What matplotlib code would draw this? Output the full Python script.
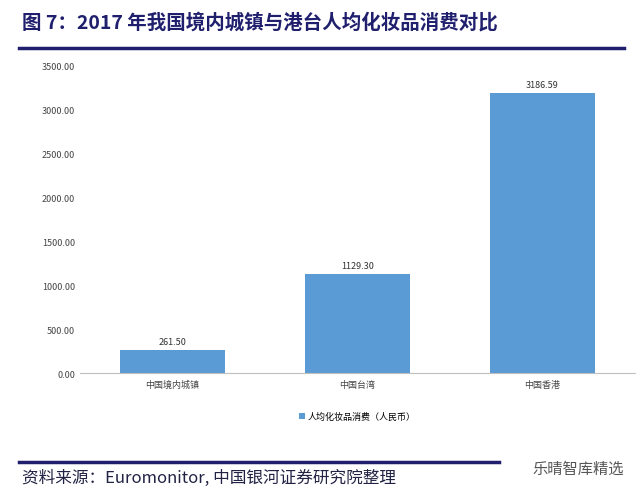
import matplotlib.pyplot as plt
import numpy as np

plt.rcParams['font.family'] = ['Noto Sans CJK SC', 'DejaVu Sans']

categories = ['中国境内城镇', '中国台湾', '中国香港']
values = [261.50, 1129.30, 3186.59]
series_name = '人均化妆品消费（人民币）'

navy = '#1f1f6e'
blue = '#5b9bd5'

fig = plt.figure(figsize=(6.4, 4.89), dpi=100)
fig.text(0.035, 0.955, '图 7：2017 年我国境内城镇与港台人均化妆品消费对比',
         fontsize=14, fontweight='bold', color=navy, va='center')
fig.add_artist(plt.Line2D([0.03, 0.975], [0.90, 0.90], color=navy, lw=2.5))
fig.add_artist(plt.Line2D([0.03, 0.78], [0.053, 0.053], color=navy, lw=2.5))
fig.text(0.035, 0.022, '资料来源：Euromonitor, 中国银河证券研究院整理',
         fontsize=12, style='italic', color='#222244', va='center')
fig.text(0.975, 0.04, '乐晴智库精选', fontsize=11, color='#555555', ha='right', va='center')

ax = fig.add_axes([0.125, 0.235, 0.867, 0.628])
x = np.arange(len(categories))
ax.bar(x, values, width=0.57, color=blue, label=series_name, zorder=2)
for xi, v in zip(x, values):
    ax.text(xi, v + 50, f'{v:.2f}', ha='center', va='bottom', fontsize=6.5, color='#333333')

ax.set_xlim(-0.5, 2.5)
ax.set_ylim(0, 3500)
ax.set_yticks(np.arange(0, 3501, 500))
ax.set_yticklabels([f'{t:.2f}' for t in np.arange(0, 3501, 500)], fontsize=6.5, color='#444444')
ax.set_xticks(x)
ax.set_xticklabels(categories, fontsize=6.5, color='#444444')
ax.tick_params(length=0)
ax.tick_params(axis='x', pad=5)
for s in ['top', 'right', 'left']:
    ax.spines[s].set_visible(False)
ax.spines['bottom'].set_color('#bfbfbf')

ax.legend(loc='upper center', bbox_to_anchor=(0.5, -0.1), frameon=False, fontsize=6.5,
          handlelength=0.6, handleheight=0.6, handletextpad=0.3)

fig.savefig('out.png', dpi=100)
